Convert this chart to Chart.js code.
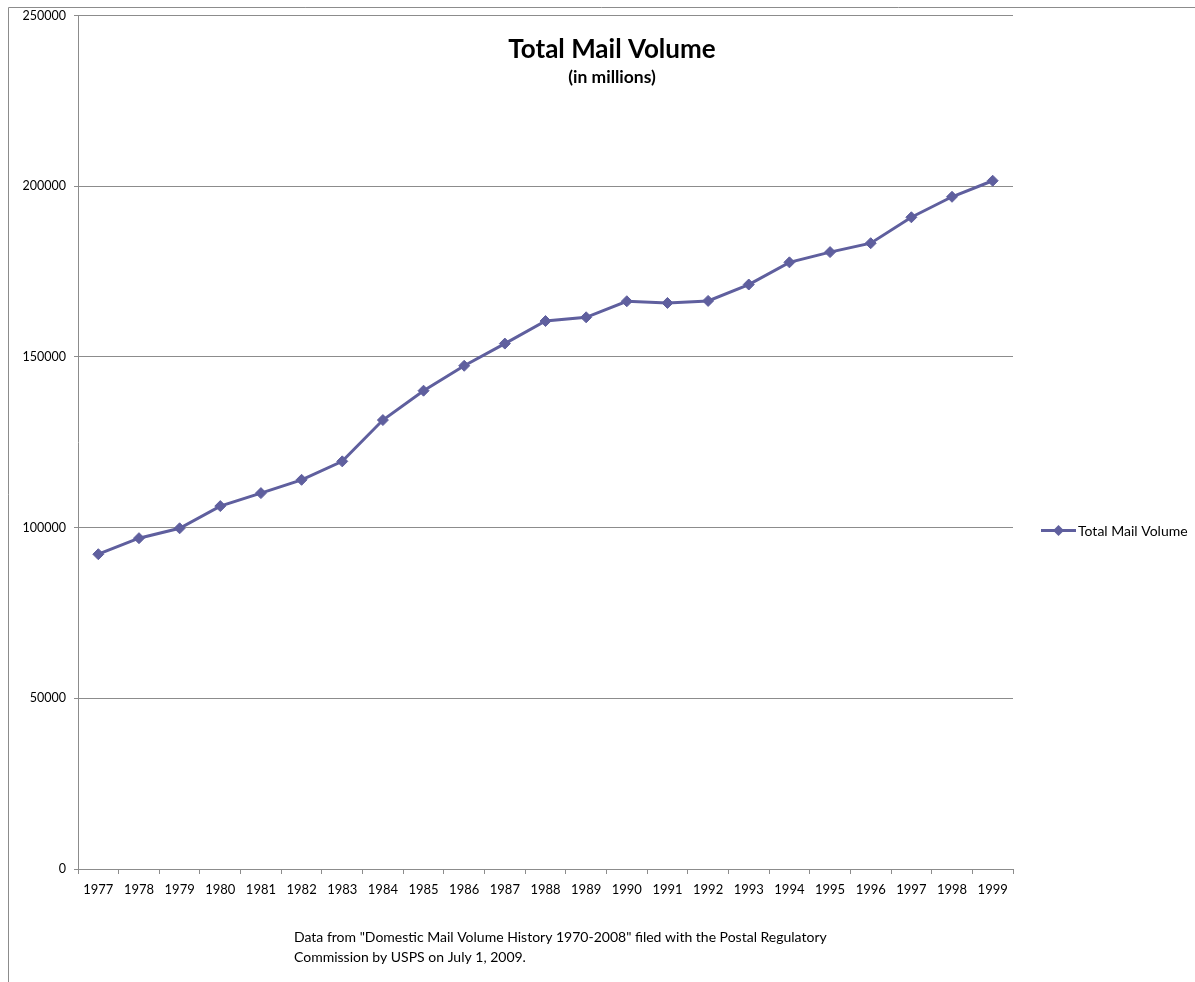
<!DOCTYPE html>
<html lang="en">
<head>
    <meta charset="UTF-8">
    <title>Total Mail Volume</title>
    <script src="https://cdn.jsdelivr.net/npm/chart.js"></script>
    <style>
        body { margin: 0; background: #fff; }
    </style>
</head>
<body>
    <canvas id="mailChart" width="1195" height="982"></canvas>

    <script>
        // Total mail volume by fiscal year, in millions of pieces
        var years = ['1977', '1978', '1979', '1980', '1981', '1982', '1983', '1984',
                     '1985', '1986', '1987', '1988', '1989', '1990', '1991', '1992',
                     '1993', '1994', '1995', '1996', '1997', '1998', '1999'];
        var mailVolume = [92200, 96900, 99800, 106300, 110100, 114000, 119400, 131500,
                          140100, 147400, 153900, 160500, 161600, 166300, 165800, 166400,
                          171200, 177700, 180700, 183300, 190900, 196900, 201600];
        var yMin = 0;
        var yMax = 250000;
        var yStep = 50000;

        var seriesName = 'Total Mail Volume';
        var titleText = 'Total Mail Volume';
        var subtitleText = '(in millions)';
        var sourceLines = [
            'Data from "Domestic Mail Volume History 1970-2008" filed with the Postal Regulatory',
            'Commission by USPS on July 1, 2009.'
        ];

        var lineColor = '#5f5f9e';
        var gridColor = '#8c8c8c';
        var fontFamily = 'Lato, "Open Sans", sans-serif';

        // frame, titles, source note and legend are laid out by hand like the office chart
        var decorations = {
            id: 'decorations',
            beforeDraw: function (chart) {
                var c = chart.ctx;
                c.save();
                c.strokeStyle = gridColor;
                c.lineWidth = 1;
                c.beginPath();
                c.moveTo(8.5, chart.height);
                c.lineTo(8.5, 7.5);
                c.lineTo(chart.width, 7.5);
                c.stroke();
                c.restore();
            },
            afterDraw: function (chart) {
                var c = chart.ctx;
                c.save();
                c.fillStyle = '#000';
                c.textAlign = 'center';
                c.textBaseline = 'alphabetic';
                c.font = 'bold 26px ' + fontFamily;
                c.fillText(titleText, 612, 58);
                c.font = 'bold 17.5px ' + fontFamily;
                c.fillText(subtitleText, 612, 83);

                c.textAlign = 'left';
                c.font = '14px ' + fontFamily;
                sourceLines.forEach(function (line, i) {
                    c.fillText(line, 294, 942 + i * 20);
                });

                // legend entry: line with a diamond marker
                var ly = 530.5;
                c.strokeStyle = lineColor;
                c.lineWidth = 3;
                c.beginPath();
                c.moveTo(1041, ly);
                c.lineTo(1076, ly);
                c.stroke();
                c.fillStyle = lineColor;
                c.beginPath();
                c.moveTo(1058.5 - 5.5, ly);
                c.lineTo(1058.5, ly - 5.5);
                c.lineTo(1058.5 + 5.5, ly);
                c.lineTo(1058.5, ly + 5.5);
                c.closePath();
                c.fill();
                c.fillStyle = '#000';
                c.font = '14px ' + fontFamily;
                c.textBaseline = 'middle';
                c.fillText(seriesName, 1078, ly + 1);
                c.restore();
            }
        };

        var ctx = document.getElementById('mailChart').getContext('2d');
        var mailChart = new Chart(ctx, {
            type: 'line',
            data: {
                labels: years,
                datasets: [{
                    label: seriesName,
                    data: mailVolume,
                    borderColor: lineColor,
                    backgroundColor: lineColor,
                    borderWidth: 3,
                    pointStyle: 'rectRot',
                    pointRadius: 5.5,
                    pointBorderWidth: 1,
                    pointHoverRadius: 5.5,
                    tension: 0,
                    fill: false
                }]
            },
            options: {
                responsive: false,
                animation: false,
                layout: {
                    padding: { left: 0, top: 12, right: 182, bottom: 83 }
                },
                plugins: {
                    legend: { display: false },
                    title: { display: false },
                    tooltip: { enabled: false }
                },
                scales: {
                    x: {
                        offset: true,
                        grid: {
                            offset: true,
                            drawOnChartArea: false,
                            tickLength: 5,
                            color: gridColor
                        },
                        border: { color: gridColor },
                        ticks: {
                            color: '#000',
                            padding: 8,
                            maxRotation: 0,
                            autoSkip: false,
                            font: { family: fontFamily, size: 13 }
                        },
                        afterFit: function (scale) { scale.height = 30; }
                    },
                    y: {
                        min: yMin,
                        max: yMax,
                        grid: {
                            color: gridColor,
                            tickLength: 4
                        },
                        border: { color: gridColor },
                        ticks: {
                            stepSize: yStep,
                            color: '#000',
                            padding: 8,
                            font: { family: fontFamily, size: 12.5 },
                            callback: function (value) { return String(value); }
                        },
                        afterFit: function (scale) { scale.width = 78; }
                    }
                }
            },
            plugins: [decorations]
        });
    </script>
</body>
</html>
